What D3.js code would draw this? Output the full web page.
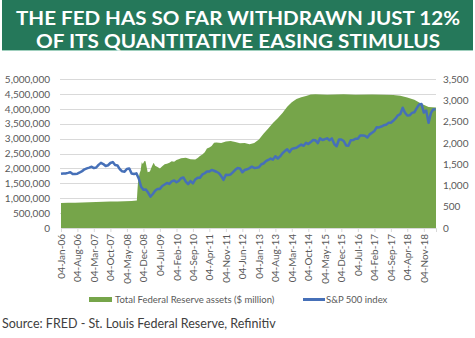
<!DOCTYPE html>
<html>
<head>
<meta charset="utf-8">
<script src="https://cdn.jsdelivr.net/npm/d3@7"></script>
<style>
  body { margin: 0; background: #fff; }
  svg { display: block; font-family: Lato, "Open Sans", sans-serif; }
</style>
</head>
<body>
<svg id="chart" width="475" height="338"></svg>
<script>
const titleLines = ['THE FED HAS SO FAR WITHDRAWN JUST 12%', 'OF ITS QUANTITATIVE EASING STIMULUS'];
const sourceText = 'Source: FRED - St. Louis Federal Reserve, Refinitiv';
const fedLabel = 'Total Federal Reserve assets ($ million)';
const spxLabel = 'S&P 500 index';

// Fed total assets, $ million
const fedDates = [
  '2006-01-04','2006-04-04','2006-07-04','2006-10-04','2007-01-04','2007-04-04','2007-07-04','2007-10-04',
  '2008-01-04','2008-04-04','2008-07-04','2008-09-10','2008-09-17','2008-09-24','2008-10-01','2008-10-15',
  '2008-10-29','2008-11-12','2008-11-26','2008-12-17','2008-12-31','2009-01-14','2009-01-28','2009-02-25',
  '2009-03-25','2009-04-15','2009-05-04','2009-06-04','2009-07-04','2009-08-04','2009-09-04','2009-10-04',
  '2009-11-04','2009-12-04','2010-01-04','2010-02-04','2010-03-04','2010-04-04','2010-06-04','2010-08-04',
  '2010-10-04','2010-11-04','2010-12-04','2011-01-04','2011-02-04','2011-03-04','2011-04-04','2011-05-04',
  '2011-06-04','2011-07-04','2011-09-04','2011-11-04','2012-01-04','2012-03-04','2012-05-04','2012-07-04',
  '2012-09-04','2012-11-04','2013-01-04','2013-03-04','2013-05-04','2013-07-04','2013-09-04','2013-11-04',
  '2014-01-04','2014-03-04','2014-05-04','2014-07-04','2014-09-04','2014-11-04','2015-01-04','2015-06-04',
  '2016-01-04','2016-06-04','2017-01-04','2017-06-04','2017-10-04','2018-01-04','2018-04-04','2018-07-04',
  '2018-10-04','2019-01-04','2019-04-10'
];
const fedValues = [
  838000, 845000, 850000, 857000, 866000, 872000, 880000, 888000,
  893000, 899000, 905000, 925000, 1250000, 1500000, 1610000, 1840000,
  1930000, 2210000, 2150000, 2250000, 2240000, 2050000, 1870000, 1900000,
  2080000, 2190000, 2090000, 2050000, 2000000, 2070000, 2140000, 2160000,
  2190000, 2240000, 2220000, 2280000, 2310000, 2340000, 2360000, 2310000,
  2300000, 2350000, 2420000, 2470000, 2540000, 2670000, 2700000, 2750000,
  2860000, 2870000, 2850000, 2900000, 2920000, 2890000, 2840000, 2850000,
  2810000, 2850000, 2970000, 3160000, 3340000, 3520000, 3680000, 3860000,
  4070000, 4220000, 4330000, 4390000, 4430000, 4480000, 4490000, 4470000,
  4490000, 4470000, 4480000, 4470000, 4460000, 4440000, 4380000, 4300000,
  4170000, 4060000, 4040000
];

// S&P 500, value near the 4th of each month from Jan 2006
const spxStart = '2006-01-04';
const spxValues = [
  1273, 1280, 1281, 1295, 1311, 1270, 1270, 1277, 1304, 1336, 1378, 1401,
  1418, 1438, 1407, 1421, 1482, 1531, 1503, 1455, 1474, 1527, 1549, 1481,
  1468, 1379, 1331, 1323, 1386, 1400, 1280, 1267, 1283, 1166, 969, 896,
  903, 826, 735, 798, 873, 919, 919, 987, 1021, 1057, 1036, 1096,
  1115, 1074, 1104, 1169, 1187, 1089, 1031, 1102, 1049, 1141, 1183, 1181,
  1258, 1286, 1327, 1326, 1364, 1345, 1321, 1292, 1219, 1131, 1253, 1247,
  1258, 1312, 1366, 1408, 1398, 1310, 1362, 1379, 1407, 1441, 1412, 1416,
  1426, 1498, 1515, 1569, 1598, 1631, 1606, 1686, 1633, 1682, 1757, 1806,
  1848, 1783, 1859, 1872, 1884, 1924, 1960, 1931, 2003, 1972, 2018, 2068,
  2059, 1995, 2105, 2068, 2086, 2107, 2063, 2104, 1972, 1920, 2079, 2080,
  2044, 1940, 1932, 2060, 2065, 2097, 2099, 2174, 2171, 2168, 2126, 2199,
  2239, 2279, 2364, 2363, 2384, 2412, 2423, 2470, 2472, 2519, 2575, 2648,
  2674, 2824, 2714, 2641, 2648, 2705, 2718, 2816, 2902, 2914, 2712, 2760,
  2470, 2704, 2784, 2790
];

const leftTicks = [0, 500000, 1000000, 1500000, 2000000, 2500000, 3000000, 3500000, 4000000, 4500000, 5000000];
const rightTicks = [0, 500, 1000, 1500, 2000, 2500, 3000, 3500];

const parse = d3.utcParse('%Y-%m-%d');
const fed = fedDates.map((d, i) => ({date: parse(d), v: fedValues[i]}));
const start = parse(spxStart);
const spx = spxValues.map((v, i) => ({date: d3.utcMonth.offset(start, i), v}));
const xTicks = d3.range(23).map(i => d3.utcMonth.offset(start, 7 * i));

const plot = {left: 60, right: 436, top: 79, bottom: 228};

const x = d3.scaleUtc()
    .domain([start, parse('2019-04-10')])
    .range([plot.left + 1, plot.right]);
const yLeft = d3.scaleLinear().domain([0, 5000000]).range([plot.bottom, plot.top]);
const yRight = d3.scaleLinear().domain([0, 3500]).range([plot.bottom, plot.top]);

const svg = d3.select('#chart');

// title banner
svg.append('rect')
    .attr('x', 2).attr('y', 0)
    .attr('width', 471).attr('height', 50)
    .attr('fill', '#25785a');
svg.append('line')
    .attr('x1', 2).attr('x2', 473)
    .attr('y1', 50.5).attr('y2', 50.5)
    .attr('stroke', '#9fcfbd');

svg.selectAll('.title')
    .data(titleLines)
    .join('text')
    .attr('class', 'title')
    .attr('x', 238)
    .attr('y', (d, i) => i ? 47.5 : 24.5)
    .attr('text-anchor', 'middle')
    .attr('fill', '#fff')
    .attr('font-weight', 'bold')
    .attr('font-size', 19)
    .attr('textLength', (d, i) => i ? 404 : 444)
    .attr('lengthAdjust', 'spacingAndGlyphs')
    .text(d => d);

// gridlines
svg.append('g')
    .selectAll('line')
    .data(leftTicks.slice(1))
    .join('line')
    .attr('x1', plot.left).attr('x2', plot.right)
    .attr('y1', d => Math.round(yLeft(d)) + 0.5)
    .attr('y2', d => Math.round(yLeft(d)) + 0.5)
    .attr('stroke', '#d9d9d9');

// fed assets area
const area = d3.area()
    .x(d => x(d.date))
    .y0(plot.bottom)
    .y1(d => yLeft(d.v));

svg.append('path')
    .datum(fed)
    .attr('fill', '#76a54a')
    .attr('d', area);

// s&p line
const line = d3.line()
    .x(d => x(d.date))
    .y(d => yRight(d.v));

svg.append('path')
    .datum(spx)
    .attr('fill', 'none')
    .attr('stroke', '#4670b8')
    .attr('stroke-width', 2.5)
    .attr('stroke-linejoin', 'round')
    .attr('d', line);

// axes
const leftAxis = svg.append('g')
    .attr('transform', `translate(${plot.left},0)`)
    .call(d3.axisLeft(yLeft).tickValues(leftTicks).tickFormat(d3.format(',')).tickSize(0).tickPadding(10));

const rightAxis = svg.append('g')
    .attr('transform', `translate(${plot.right},0)`)
    .call(d3.axisRight(yRight).tickValues(rightTicks).tickFormat(d3.format(',')).tickSize(0).tickPadding(7));

const xAxis = svg.append('g')
    .attr('transform', `translate(0,${plot.bottom})`)
    .call(d3.axisBottom(x).tickValues(xTicks).tickFormat(d3.utcFormat('%d-%b-%y')).tickSize(4).tickPadding(6));

xAxis.selectAll('text')
    .attr('transform', 'rotate(-90)')
    .attr('text-anchor', 'end')
    .attr('dy', '0.35em')
    .attr('x', -6)
    .attr('y', 0);

[leftAxis, rightAxis, xAxis].forEach(g => {
    g.select('.domain').attr('stroke', '#d9d9d9');
    g.selectAll('.tick line').attr('stroke', '#d9d9d9');
    g.selectAll('text')
        .attr('fill', '#595959')
        .attr('font-size', 10)
        .attr('font-family', 'Lato, sans-serif');
});
leftAxis.select('.domain').remove();
rightAxis.select('.domain').remove();

// legend
const legend = svg.append('g').attr('font-size', 9.5).attr('fill', '#595959');
legend.append('rect')
    .attr('x', 89).attr('y', 297)
    .attr('width', 23).attr('height', 5)
    .attr('fill', '#76a54a');
legend.append('text')
    .attr('x', 115).attr('y', 303)
    .text(fedLabel);
legend.append('line')
    .attr('x1', 303).attr('x2', 325)
    .attr('y1', 299.5).attr('y2', 299.5)
    .attr('stroke', '#4670b8')
    .attr('stroke-width', 3);
legend.append('text')
    .attr('x', 326).attr('y', 303)
    .text(spxLabel);

// source
svg.append('text')
    .attr('x', 2).attr('y', 328)
    .attr('font-size', 12.5)
    .attr('fill', '#404040')
    .text(sourceText);
</script>
</body>
</html>
